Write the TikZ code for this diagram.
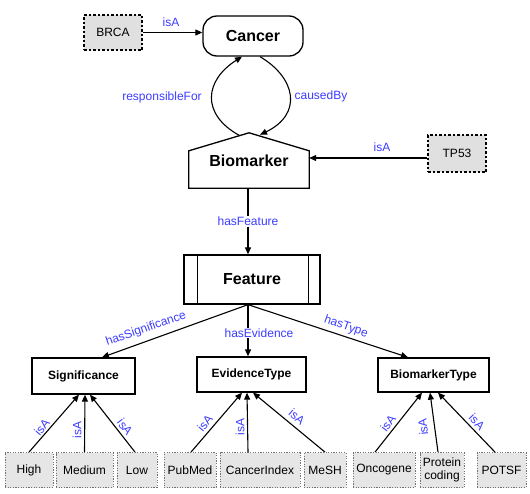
\documentclass[tikz,border=0pt]{standalone}
\usepackage{fontspec}
\setmainfont{Liberation Sans}
\usetikzlibrary{arrows.meta}
\definecolor{lblue}{RGB}{60,60,255}
\definecolor{leafgray}{RGB}{230,230,230}
\definecolor{instgray}{RGB}{224,224,224}
\tikzset{
  bigbox/.style={draw, line width=1.3pt, inner sep=0pt, font=\bfseries\fontsize{16}{19}\selectfont},
  cls/.style={draw, line width=1.3pt, inner sep=0pt, font=\bfseries\fontsize{12}{14}\selectfont},
  leaf/.style={draw=black!55, dash pattern=on 1.2pt off 1.4pt, line width=0.8pt, fill=leafgray,
    inner sep=0pt, minimum height=35pt, font=\fontsize{12}{13}\selectfont, align=center},
  inst/.style={draw, dash pattern=on 2.5pt off 2pt, line width=1.2pt, fill=instgray,
    inner sep=0pt, font=\fontsize{12}{14}\selectfont},
  arr/.style={line width=1.1pt, -{Triangle[length=7pt,width=6pt]}},
  lbl/.style={text=lblue, font=\fontsize{12}{14}\selectfont, inner sep=1pt},
}
\begin{document}
\begin{tikzpicture}[x=1pt,y=-1pt]
\useasboundingbox (0,0) rectangle (530,493);

% top classes
\node[bigbox, rounded corners=14pt, minimum width=100pt, minimum height=40pt] (cancer) at (253,36) {Cancer};
\node[inst, minimum width=58pt, minimum height=35pt] (brca) at (113,32.5) {BRCA};
\node[inst, minimum width=58pt, minimum height=37pt] (tp53) at (457,153.5) {TP53};

\node[inner sep=0pt, minimum width=120pt, minimum height=55pt, font=\bfseries\fontsize{16}{19}\selectfont] (bio) at (249,160.5) {\raisebox{-2.5pt}{Biomarker}};
\draw[line width=1.3pt, line join=miter] (bio.south west) -- ([yshift=-18pt]bio.north west) -- (bio.north)
  -- ([yshift=-18pt]bio.north east) -- (bio.south east) -- cycle;

\node[bigbox, minimum width=136pt, minimum height=49pt] (feat) at (252,279.5) {Feature};
\draw[line width=1.3pt] ([xshift=14pt]feat.north west) -- ([xshift=14pt]feat.south west);
\draw[line width=1.3pt] ([xshift=-12pt]feat.north east) -- ([xshift=-12pt]feat.south east);

% second-level classes
\node[cls, minimum width=103pt, minimum height=36pt] (sig) at (83.5,376) {Significance};
\node[cls, minimum width=109pt, minimum height=35pt] (ev) at (251.5,374.5) {EvidenceType};
\node[cls, minimum width=111pt, minimum height=34pt] (bt) at (433.5,375) {BiomarkerType};

% leaves
\node[leaf, minimum width=48pt] (high) at (29,470) {High};
\node[leaf, minimum width=57pt] (med) at (84.5,470) {Medium};
\node[leaf, minimum width=40pt] (low) at (137,470) {Low};
\node[leaf, minimum width=52pt] (pub) at (190,470) {PubMed};
\node[leaf, minimum width=80pt] (ci) at (260,470) {CancerIndex};
\node[leaf, minimum width=42pt] (mesh) at (325,470) {MeSH};
\node[leaf, minimum width=62pt] (onc) at (384,470) {Oncogene};
\node[leaf, minimum width=44pt] (prot) at (442,470) {Protein\\coding};
\node[leaf, minimum width=49pt] (potsf) at (501.5,470) {POTSF};

% connectors top
\draw[arr] (brca.east) -- (brca.east -| cancer.west);
\node[lbl] (lbrca) at (171,22) {isA};
\draw[arr] ([yshift=-4.5pt]tp53.west) -- ([yshift=-4.5pt]tp53.west -| bio.east);
\node[lbl] (ltp) at (382,147) {isA};

\draw[arr] ([xshift=-9pt,yshift=-3pt]bio.north) .. controls (200,114) and (205,80) .. ([xshift=-11pt]cancer.south);
\node[lbl] (lresp) at (162,97) {responsibleFor};
\draw[arr] ([xshift=7pt]cancer.south) .. controls (296,78) and (303,114) .. ([xshift=11pt,yshift=-2pt]bio.north);
\node[lbl] (lcaus) at (321,96) {causedBy};

\draw[arr] ([xshift=-1pt]bio.south) -- ([xshift=-1pt]bio.south |- feat.north)
  node[lbl, midway, fill=white] (lhf) {hasFeature};

% feature branches
\draw[arr] ([xshift=-4pt]feat.south) -- ([xshift=18.5pt]sig.north);
\node[lbl, rotate=19] (lsig) at (146,329) {hasSignificance};
\draw[arr] ([xshift=-4pt]feat.south) -- ([xshift=-4pt]feat.south |- ev.north);
\node[lbl, fill=white] (lev) at (259,333) {hasEvidence};
\draw[arr] ([xshift=-4pt]feat.south) -- ([xshift=-25.5pt]bt.north);
\node[lbl, rotate=-19] (lbt) at (346,327) {hasType};

% leaf arrows
\draw[arr] (high.north) -- ([xshift=-4.5pt]sig.south);
\draw[arr] (med.north) -- ([xshift=1.5pt]sig.south);
\draw[arr] ([xshift=-2pt]low.north) -- ([xshift=6.5pt]sig.south);
\node[lbl, rotate=50] (i1) at (42,427) {isA};
\node[lbl, rotate=90] (i2) at (77,430) {isA};
\node[lbl, rotate=-53] (i3) at (125,427) {isA};

\draw[arr] ([xshift=1pt]pub.north) -- ([xshift=-9.5pt]ev.south);
\draw[arr] ([xshift=-12pt]ci.north) -- ([xshift=-4.5pt]ev.south);
\draw[arr] (mesh.north) -- ([xshift=1.5pt]ev.south);
\node[lbl, rotate=50] (i4) at (205,423) {isA};
\node[lbl, rotate=90] (i5) at (240,427) {isA};
\node[lbl, rotate=-40] (i6) at (297,417) {isA};

\draw[arr] ([xshift=-9pt]onc.north) -- ([xshift=-11.5pt]bt.south);
\draw[arr] ([xshift=-4pt]prot.north) -- ([xshift=-3.5pt]bt.south);
\draw[arr] ([xshift=-6.5pt]potsf.north) -- ([xshift=4.5pt]bt.south);
\node[lbl, rotate=52] (i7) at (388,423) {isA};
\node[lbl, rotate=95] (i8) at (423,427) {isA};
\node[lbl, rotate=-46] (i9) at (477,422) {isA};
\end{tikzpicture}
\end{document}
